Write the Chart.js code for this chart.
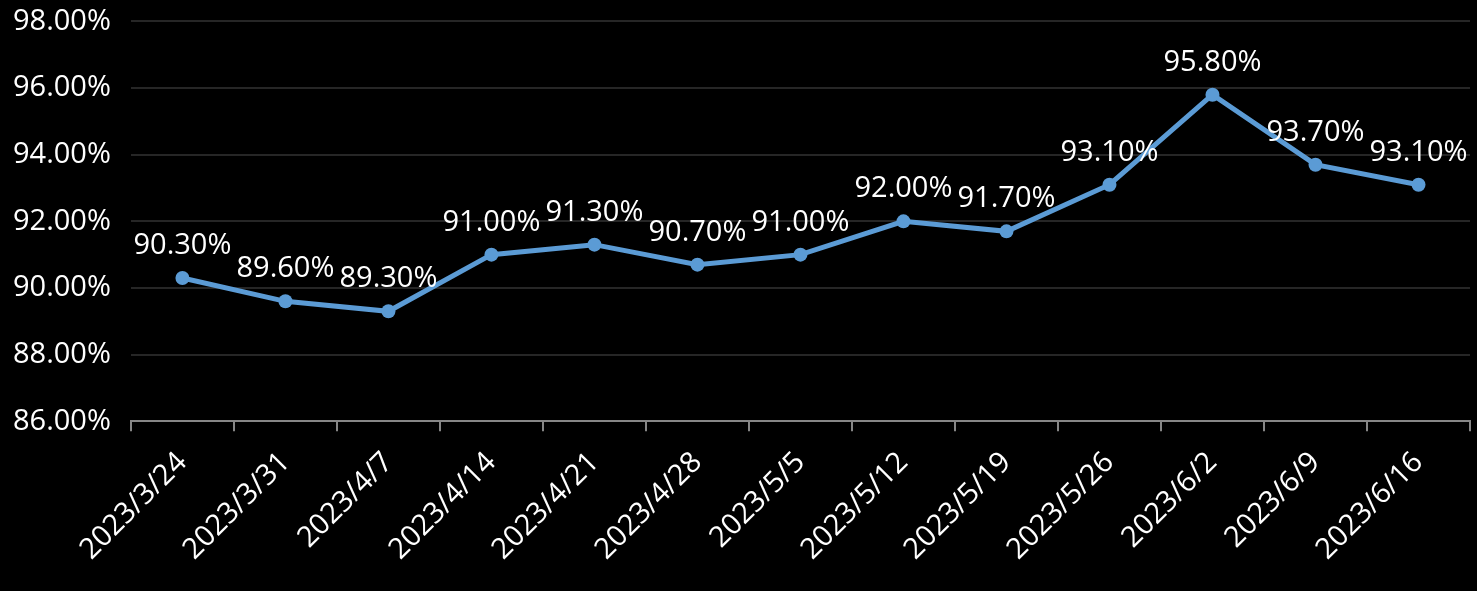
<!DOCTYPE html>
<html lang="zh-TW">
<head>
    <meta charset="UTF-8">
    <title>Rate chart</title>
    <script src="https://cdn.jsdelivr.net/npm/chart.js"></script>
    <style>
        html, body {
            margin: 0;
            padding: 0;
            background-color: #000;
            overflow: hidden;
        }
        /* shifted up a bit: chart.js keeps some room above the top tick */
        .wrap {
            width: 1477px;
            height: 607px;
            margin-top: -16px;
        }
    </style>
</head>
<body>
    <div class="wrap"><canvas id="rateChart"></canvas></div>

    <script>
        const dates = ['2023/3/24', '2023/3/31', '2023/4/7', '2023/4/14', '2023/4/21', '2023/4/28', '2023/5/5',
            '2023/5/12', '2023/5/19', '2023/5/26', '2023/6/2', '2023/6/9', '2023/6/16'];
        const rates = [90.3, 89.6, 89.3, 91.0, 91.3, 90.7, 91.0, 92.0, 91.7, 93.1, 95.8, 93.7, 93.1];
        const yMin = 86;
        const yMax = 98;
        const yStep = 2;

        const FONT = '"Open Sans", "Noto Sans", sans-serif';
        const FONT_SIZE = 29;

        // draws the value above each point (no datalabels plugin available)
        const valueLabels = {
            id: 'valueLabels',
            afterDatasetsDraw(chart) {
                const ctx = chart.ctx;
                const meta = chart.getDatasetMeta(0);
                ctx.save();
                ctx.font = FONT_SIZE + 'px ' + FONT;
                ctx.fillStyle = '#fff';
                ctx.textAlign = 'center';
                ctx.textBaseline = 'alphabetic';
                meta.data.forEach((pt, i) => {
                    ctx.fillText(rates[i].toFixed(2) + '%', pt.x, pt.y - 24);
                });
                ctx.restore();
            }
        };

        const ctx = document.getElementById('rateChart').getContext('2d');
        new Chart(ctx, {
            type: 'line',
            data: {
                labels: dates,
                datasets: [{
                    data: rates,
                    borderColor: '#5B9BD5',
                    backgroundColor: '#5B9BD5',
                    borderWidth: 5,
                    pointRadius: 7,
                    pointBorderWidth: 0,
                    tension: 0
                }]
            },
            options: {
                responsive: true,
                maintainAspectRatio: false,
                animation: false,
                layout: { padding: { top: 0, right: 4, left: -7, bottom: 10 } },
                plugins: {
                    legend: { display: false },
                    tooltip: { enabled: false }
                },
                scales: {
                    x: {
                        offset: true,
                        grid: {
                            offset: true,
                            drawOnChartArea: false,
                            color: '#868686',
                            lineWidth: 2,
                            tickLength: 10
                        },
                        border: { color: '#868686', width: 2 },
                        ticks: {
                            color: '#fff',
                            font: { family: FONT, size: FONT_SIZE },
                            minRotation: 45,
                            maxRotation: 45,
                            autoSkip: false,
                            padding: 14
                        }
                    },
                    y: {
                        min: yMin,
                        max: yMax,
                        grid: {
                            color: '#262626',
                            lineWidth: 2,
                            drawTicks: false
                        },
                        border: { display: false },
                        ticks: {
                            stepSize: yStep,
                            color: '#fff',
                            font: { family: FONT, size: FONT_SIZE },
                            padding: 20,
                            callback: v => v.toFixed(2) + '%'
                        }
                    }
                }
            },
            plugins: [valueLabels]
        });
    </script>
</body>
</html>
